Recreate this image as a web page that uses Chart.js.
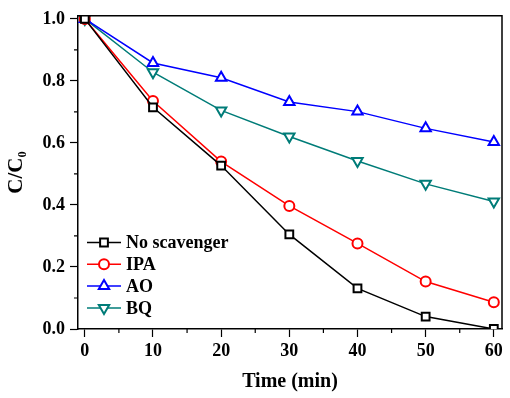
<!DOCTYPE html>
<html>
<head>
<meta charset="utf-8">
<script src="https://cdn.jsdelivr.net/npm/chart.js@4/dist/chart.umd.min.js"></script>
<style>
  html, body { margin: 0; padding: 0; background: #fff; }
  #wrap { width: 510px; height: 398px; }
</style>
</head>
<body>
<div id="wrap"><canvas id="chart" width="510" height="398"></canvas></div>
<script>
const times = [0, 10, 20, 30, 40, 50, 60];
const noScavenger = [1.0, 0.715, 0.527, 0.305, 0.131, 0.040, 0.0];
const ipa = [1.0, 0.735, 0.540, 0.397, 0.276, 0.153, 0.086];
const ao = [1.0, 0.858, 0.810, 0.732, 0.701, 0.647, 0.603];
const bq = [1.0, 0.828, 0.705, 0.621, 0.542, 0.468, 0.411];
const xTicks = [0, 10, 20, 30, 40, 50, 60];
const yTicks = [0, 0.2, 0.4, 0.6, 0.8, 1.0];

const serif = '"Liberation Serif", "Times New Roman", serif';

function pts(vals) {
  return times.map((t, i) => ({ x: t, y: vals[i] }));
}

function series(label, vals, color, style, rot, radius) {
  return {
    label: label,
    data: pts(vals),
    borderColor: color,
    backgroundColor: '#fff',
    borderWidth: 1.5,
    pointStyle: style,
    rotation: rot,
    pointRadius: radius,
    pointBorderWidth: 2,
    pointBackgroundColor: '#fff',
    pointBorderColor: color,
    tension: 0
  };
}

// frame, minor ticks and the legend inside the plot
const extras = {
  id: 'extras',
  afterDraw(chart) {
    const c = chart.ctx;
    const a = chart.chartArea;
    const xs = chart.scales.x, ys = chart.scales.y;
    c.save();
    c.strokeStyle = '#000';
    c.lineWidth = 1.5;
    c.beginPath();
    c.moveTo(a.left, a.top);
    c.lineTo(a.right, a.top);
    c.lineTo(a.right, a.bottom);
    c.stroke();

    c.lineWidth = 1.2;
    c.beginPath();
    for (let v = 5; v < 60; v += 10) {
      const px = xs.getPixelForValue(v);
      c.moveTo(px, a.bottom);
      c.lineTo(px, a.bottom + 4);
    }
    for (let v = 0.1; v < 1.0; v += 0.2) {
      const py = ys.getPixelForValue(v);
      c.moveTo(a.left, py);
      c.lineTo(a.left - 4, py);
    }
    c.stroke();

    // legend
    c.font = 'bold 18px ' + serif;
    c.textBaseline = 'middle';
    c.textAlign = 'left';
    chart.data.datasets.forEach((ds, i) => {
      const y = 242.5 + i * 21.8;
      c.strokeStyle = ds.borderColor;
      c.lineWidth = 1.5;
      c.beginPath();
      c.moveTo(87, y);
      c.lineTo(121, y);
      c.stroke();
      c.fillStyle = '#fff';
      c.lineWidth = 2;
      Chart.helpers.drawPoint(c, {
        pointStyle: ds.pointStyle,
        rotation: ds.rotation,
        radius: ds.pointRadius,
        borderWidth: 2
      }, 104, y);
      c.fillStyle = '#000';
      c.fillText(ds.label, 126, y + 1);
    });
    c.restore();
  }
};

new Chart(document.getElementById('chart'), {
  type: 'line',
  data: {
    datasets: [
      series('No scavenger', noScavenger, '#000000', 'rect', 0, 5.5),
      series('IPA', ipa, '#ff0000', 'circle', 0, 5),
      series('AO', ao, '#0000ff', 'triangle', 0, 6),
      series('BQ', bq, '#007c78', 'triangle', 180, 6)
    ]
  },
  options: {
    responsive: false,
    animation: false,
    layout: { padding: { top: 12, right: 5, left: 0, bottom: 0 } },
    plugins: { legend: { display: false }, tooltip: { enabled: false } },
    scales: {
      x: {
        type: 'linear',
        min: -1,
        max: 61.2,
        afterBuildTicks: s => { s.ticks = xTicks.map(v => ({ value: v })); },
        afterFit: s => { s.height = 69; },
        grid: { drawOnChartArea: false, tickLength: 8, tickWidth: 1.2, color: '#000' },
        border: { color: '#000', width: 1.5 },
        ticks: {
          color: '#000',
          padding: 4,
          maxRotation: 0,
          font: { family: serif, size: 18, weight: 'bold' }
        },
        title: {
          display: true,
          text: 'Time (min)',
          color: '#000',
          padding: { top: 9 },
          font: { family: serif, size: 20, weight: 'bold' }
        }
      },
      y: {
        type: 'linear',
        min: 0,
        max: 1.01,
        afterBuildTicks: s => { s.ticks = yTicks.map(v => ({ value: v })); },
        afterFit: s => { s.width = 78; },
        grid: { drawOnChartArea: false, tickLength: 8, tickWidth: 1.2, color: '#000' },
        border: { color: '#000', width: 1.5 },
        ticks: {
          color: '#000',
          padding: 5,
          callback: v => v.toFixed(1),
          font: { family: serif, size: 18, weight: 'bold' }
        },
        title: {
          display: true,
          text: 'C/C\u2080',
          color: '#000',
          padding: { bottom: 2 },
          font: { family: serif, size: 21, weight: 'bold' }
        }
      }
    }
  },
  plugins: [extras]
});
</script>
</body>
</html>
